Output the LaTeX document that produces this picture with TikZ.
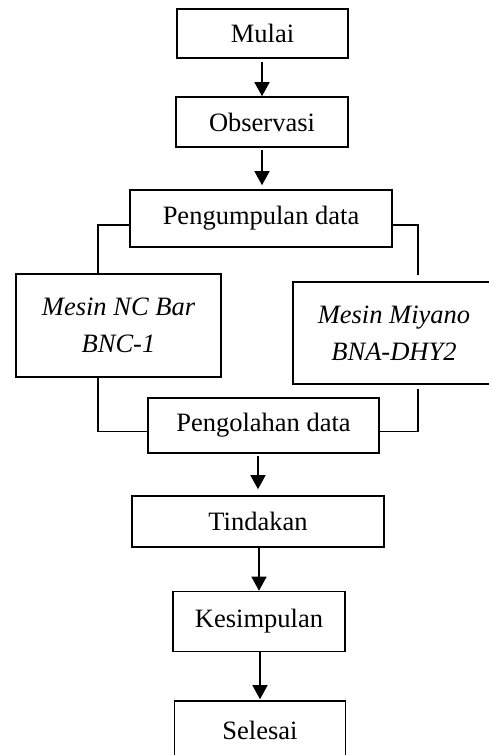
\documentclass[tikz,border=0pt]{standalone}
\usepackage{fontspec}
\setmainfont{Liberation Serif}
\usepackage{xcolor}
\definecolor{chartink}{HTML}{000000}
\usetikzlibrary{arrows.meta}

\begin{document}
\begin{tikzpicture}[
  x=1pt,
  y=-1pt,
  every node/.style={font=\fontsize{26.5}{36.7}\selectfont},
  >={Triangle[width=15pt,length=14pt]},
  stepbox/.style={draw=chartink, line width=1.6pt, inner sep=0pt, align=center},
  flow/.style={chartink, line width=1.3pt, ->},
  link/.style={chartink, line width=1.3pt}
]
  \useasboundingbox (0,0) rectangle (489,755);

  \node[stepbox, minimum width=171pt, minimum height=49pt] (mulai) at (262.5,33.5) {Mulai};
  \node[stepbox, minimum width=172pt, minimum height=50pt] (observasi) at (262,122) {Observasi};
  \node[stepbox, minimum width=262pt, minimum height=57pt] (kumpul) at (261,218.5) {Pengumpulan data};
  \node[stepbox, minimum width=205pt, minimum height=103pt, font=\fontsize{26.5}{36.7}\selectfont\itshape] (ncbar) at (118.5,325.5) {Mesin NC Bar\\BNC-1};
  \node[stepbox, minimum width=202pt, minimum height=102pt, font=\fontsize{26.5}{36.7}\selectfont\itshape] (miyano) at (394,333) {Mesin Miyano\\BNA-DHY2};
  \node[stepbox, minimum width=231pt, minimum height=55pt] (olah) at (263.5,425.5) {Pengolahan data};
  \node[stepbox, minimum width=252pt, minimum height=51pt] (tindakan) at (258,521.5) {Tindakan};
  \node[stepbox, minimum width=172pt, minimum height=60pt] (kesimpulan) at (259,621.5) {Kesimpulan};
  \node[stepbox, minimum width=171pt, minimum height=58pt] (selesai) at (260,730) {Selesai};

  \draw[flow, shorten <=3pt] (observasi.north |- mulai.south) -- (observasi.north);
  \draw[flow, shorten <=2pt, shorten >=4pt] (observasi.south) -- (observasi.south |- kumpul.north);
  \draw[link] ([yshift=-6.5pt]kumpul.west) -| ([xshift=-20.5pt]ncbar.north);
  \draw[link] ([yshift=-6.5pt]kumpul.east) -| ([xshift=24pt,yshift=6pt]miyano.north);
  \draw[link] ([xshift=-20.5pt]ncbar.south) |- ([yshift=-6pt]olah.west);
  \draw[link] ([xshift=24pt,yshift=-4pt]miyano.south) |- ([yshift=-6pt]olah.east);
  \draw[flow, shorten <=2pt, shorten >=6pt] (tindakan.north |- olah.south) -- (tindakan.north);
  \draw[flow] (kesimpulan.north |- tindakan.south) -- (kesimpulan.north);
  \draw[flow, shorten >=1pt] (selesai.north |- kesimpulan.south) -- (selesai.north);
\end{tikzpicture}
\end{document}
